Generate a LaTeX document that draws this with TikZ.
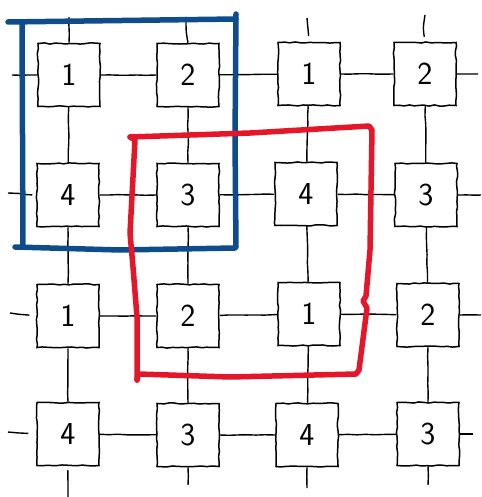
\documentclass[tikz,border=0pt]{standalone}
\usetikzlibrary{decorations.pathmorphing}
\definecolor{sketchblue}{RGB}{14,76,140}
\definecolor{sketchred}{RGB}{228,22,42}
\begin{document}
\begin{tikzpicture}[x=1pt,y=-1pt,
  cell/.style={draw, line width=1.5pt, minimum width=62pt, minimum height=63pt, inner sep=0pt,
    font=\fontsize{32}{36}\selectfont\sffamily,
    decorate, decoration={random steps, segment length=5pt, amplitude=0.6pt}},
  wire/.style={line width=1.4pt, decorate, decoration={random steps, segment length=9pt, amplitude=0.4pt}},
  frame/.style={line width=5.5pt, line cap=round, line join=round}]
\pgfmathsetseed{7}
\useasboundingbox (0,0) rectangle (481,497);
% cells
\node[cell] (b11) at (69,75) {1};
\node[cell] (b12) at (188,75) {2};
\node[cell] (b13) at (309,74) {1};
\node[cell] (b14) at (425,74) {2};
\node[cell] (b21) at (68,195) {4};
\node[cell] (b22) at (188,195) {3};
\node[cell] (b23) at (306,194) {4};
\node[cell] (b24) at (426,195) {3};
\node[cell] (b31) at (68,316) {1};
\node[cell] (b32) at (188,316) {2};
\node[cell] (b33) at (309,314) {1};
\node[cell] (b34) at (428,315) {2};
\node[cell] (b41) at (68,434) {4};
\node[cell] (b42) at (188,435) {3};
\node[cell] (b43) at (307,435) {4};
\node[cell] (b44) at (428,434) {3};
% horizontal links
\foreach \r in {1,2,3,4}{
  \draw[wire] (b\r1) -- (b\r2);
  \draw[wire] (b\r2) -- (b\r3);
  \draw[wire] (b\r3) -- (b\r4);
}
% vertical links
\foreach \c in {1,2,3,4}{
  \draw[wire] (b1\c) -- (b2\c);
  \draw[wire] (b2\c) -- (b3\c);
  \draw[wire] (b3\c) -- (b4\c);
}
% stubs
\coordinate (l1) at (12,75);  \coordinate (l2) at (8,193);
\coordinate (l3) at (10,313); \coordinate (l4) at (8,432);
\coordinate (r1) at (478,74); \coordinate (r2) at (481,195);
\coordinate (r3) at (481,315); \coordinate (r4) at (473,434);
\coordinate (t1) at (69,17);  \coordinate (t2) at (186,17);
\coordinate (t3) at (307,18); \coordinate (t4) at (425,15);
\coordinate (d1) at (68,497); \coordinate (d2) at (188,485);
\coordinate (d3) at (307,488); \coordinate (d4) at (428,485);
\draw[wire] (b11.west) -- (l1);
\draw[wire, shorten <=4pt] (b21.west) -- (l2);
\draw[wire, shorten <=7pt] (b31.west) -- (l3);
\draw[wire, shorten <=8pt] (b41.west) -- (l4);
\draw[wire] (b14.east) -- (r1);
\draw[wire] (b24.east) -- (r2);
\draw[wire] (b34.east) -- (r3);
\draw[wire] (b44.east) -- (r4);
\draw[wire] (b11.north) -- (t1);
\draw[line width=1.4pt] (b12.north) .. controls (186,32) .. (t2);
\draw[wire, shorten <=6pt] (b13.north) -- (t3);
\draw[line width=1.4pt, shorten <=5pt] (b14.north) .. controls (423,28) .. (t4);
\draw[wire, shorten <=4pt] (b41.south) -- (d1);
\draw[wire] (b42.south) -- (d2);
\draw[wire] (b43.south) -- (d3);
\draw[wire] (b44.south) -- (d4);
% blue frame
\draw[frame, sketchblue] (8,22) -- (236,19);
\draw[frame, sketchblue] (236,14) -- (235,140) -- (236,247);
\draw[frame, sketchblue] (235,248) -- (120,250) -- (15,247);
\draw[frame, sketchblue] (22,22) -- (23,247);
% red frame
\draw[frame, sketchred] (130,137) -- (250,133) -- (369,126) -- (372,130)
  -- (370,250) -- (366,296) -- (363,301) -- (367,308) -- (359,370) -- (356,374)
  -- (230,377) -- (138,374) -- (137,380);
\draw[frame, sketchred] (137,380) -- (137,317) -- (133,267) -- (130,233) -- (135,140) -- (130,137);
\end{tikzpicture}
\end{document}
